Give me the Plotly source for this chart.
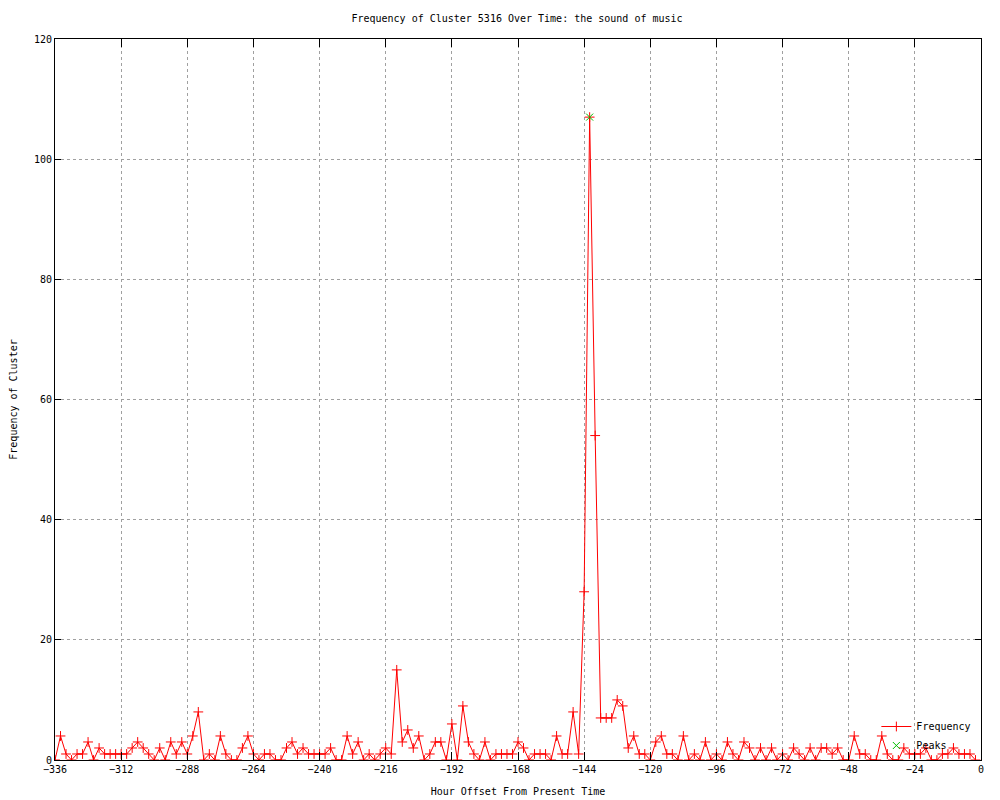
import plotly.graph_objects as go

hours = list(range(-336, 0, 2))
frequency = [
    0, 4, 1, 0, 1, 1, 3, 0, 2, 1, 1, 1,      # -336 .. -314
    1, 1, 2, 3, 2, 1, 0, 2, 0, 3, 1, 3,      # -312 .. -290
    1, 4, 8, 0, 1, 0, 4, 1, 0, 0, 2, 4,      # -288 .. -266
    1, 0, 1, 1, 0, 0, 2, 3, 1, 2, 1, 1,      # -264 .. -242
    1, 1, 2, 0, 0, 4, 1, 3, 0, 1, 0, 1,      # -240 .. -218
    2, 1, 15, 3, 5, 2, 4, 0, 1, 3, 3, 0,     # -216 .. -194
    6, 0, 9, 3, 1, 0, 3, 0, 1, 1, 1, 1,      # -192 .. -170
    3, 2, 0, 1, 1, 1, 0, 4, 1, 1, 8, 1,      # -168 .. -146
    28, 107, 54, 7, 7, 7, 10, 9, 2, 4, 1, 1, # -144 .. -122
    0, 3, 4, 1, 1, 0, 4, 0, 1, 0, 3, 0,      # -120 .. -98
    1, 0, 3, 1, 0, 3, 2, 0, 2, 0, 2, 0,      # -96 .. -74
    1, 0, 2, 1, 0, 2, 0, 2, 2, 1, 2, 0,      # -72 .. -50
    0, 4, 1, 1, 0, 0, 4, 1, 0, 0, 2, 1,      # -48 .. -26
    1, 1, 2, 0, 0, 1, 1, 2, 1, 1, 1, 0,      # -24 .. -2
]
peak_hours = [-142]
peak_values = [107]

x_ticks = list(range(-336, 1, 24))
y_ticks = list(range(0, 121, 20))

FONT = "DejaVu Sans Mono"

fig = go.Figure()
fig.add_trace(go.Scatter(
    x=hours, y=frequency, mode="lines+markers", name="Frequency",
    line=dict(color="#ff0000", width=1),
    marker=dict(symbol="cross-thin-open", size=7, color="#ff0000",
                line=dict(color="#ff0000", width=1)),
))
fig.add_trace(go.Scatter(
    x=peak_hours, y=peak_values, mode="markers", name="Peaks",
    marker=dict(symbol="x-thin-open", size=7, color="#00c000",
                line=dict(color="#00c000", width=1)),
))

axis_common = dict(
    showline=True, linecolor="black", linewidth=1, mirror="ticks",
    ticks="inside", tickcolor="black", tickwidth=1,
    showgrid=True, gridcolor="#a0a0a0", griddash="dot", gridwidth=1,
    zeroline=False, automargin=False,
    tickfont=dict(family=FONT, size=10, color="black"),
)

fig.update_layout(
    width=1000, height=800,
    paper_bgcolor="white", plot_bgcolor="white",
    margin=dict(l=47, r=27, t=31, b=48),
    font=dict(family=FONT, size=10, color="black"),
    title=dict(text="Frequency of Cluster 5316 Over Time: the sound of music",
               x=0.509, xanchor="center", y=0.9875, yanchor="middle",
               font=dict(family=FONT, size=10, color="black")),
    xaxis=dict(range=[-336, 0], tickvals=x_ticks, ticklen=8,
               title=dict(text="Hour Offset From Present Time", standoff=13,
                          font=dict(family=FONT, size=10)),
               **axis_common),
    yaxis=dict(range=[0, 120], tickvals=y_ticks, ticklen=6,
               title=dict(text="Frequency of Cluster", standoff=16,
                          font=dict(family=FONT, size=10)),
               **axis_common),
    showlegend=True,
    legend=dict(x=0.995, y=0.0, xanchor="right", yanchor="bottom",
                bgcolor="rgba(0,0,0,0)", borderwidth=0,
                font=dict(family=FONT, size=10), tracegroupgap=0,
                itemwidth=30),
)

fig.write_html("out.html")
